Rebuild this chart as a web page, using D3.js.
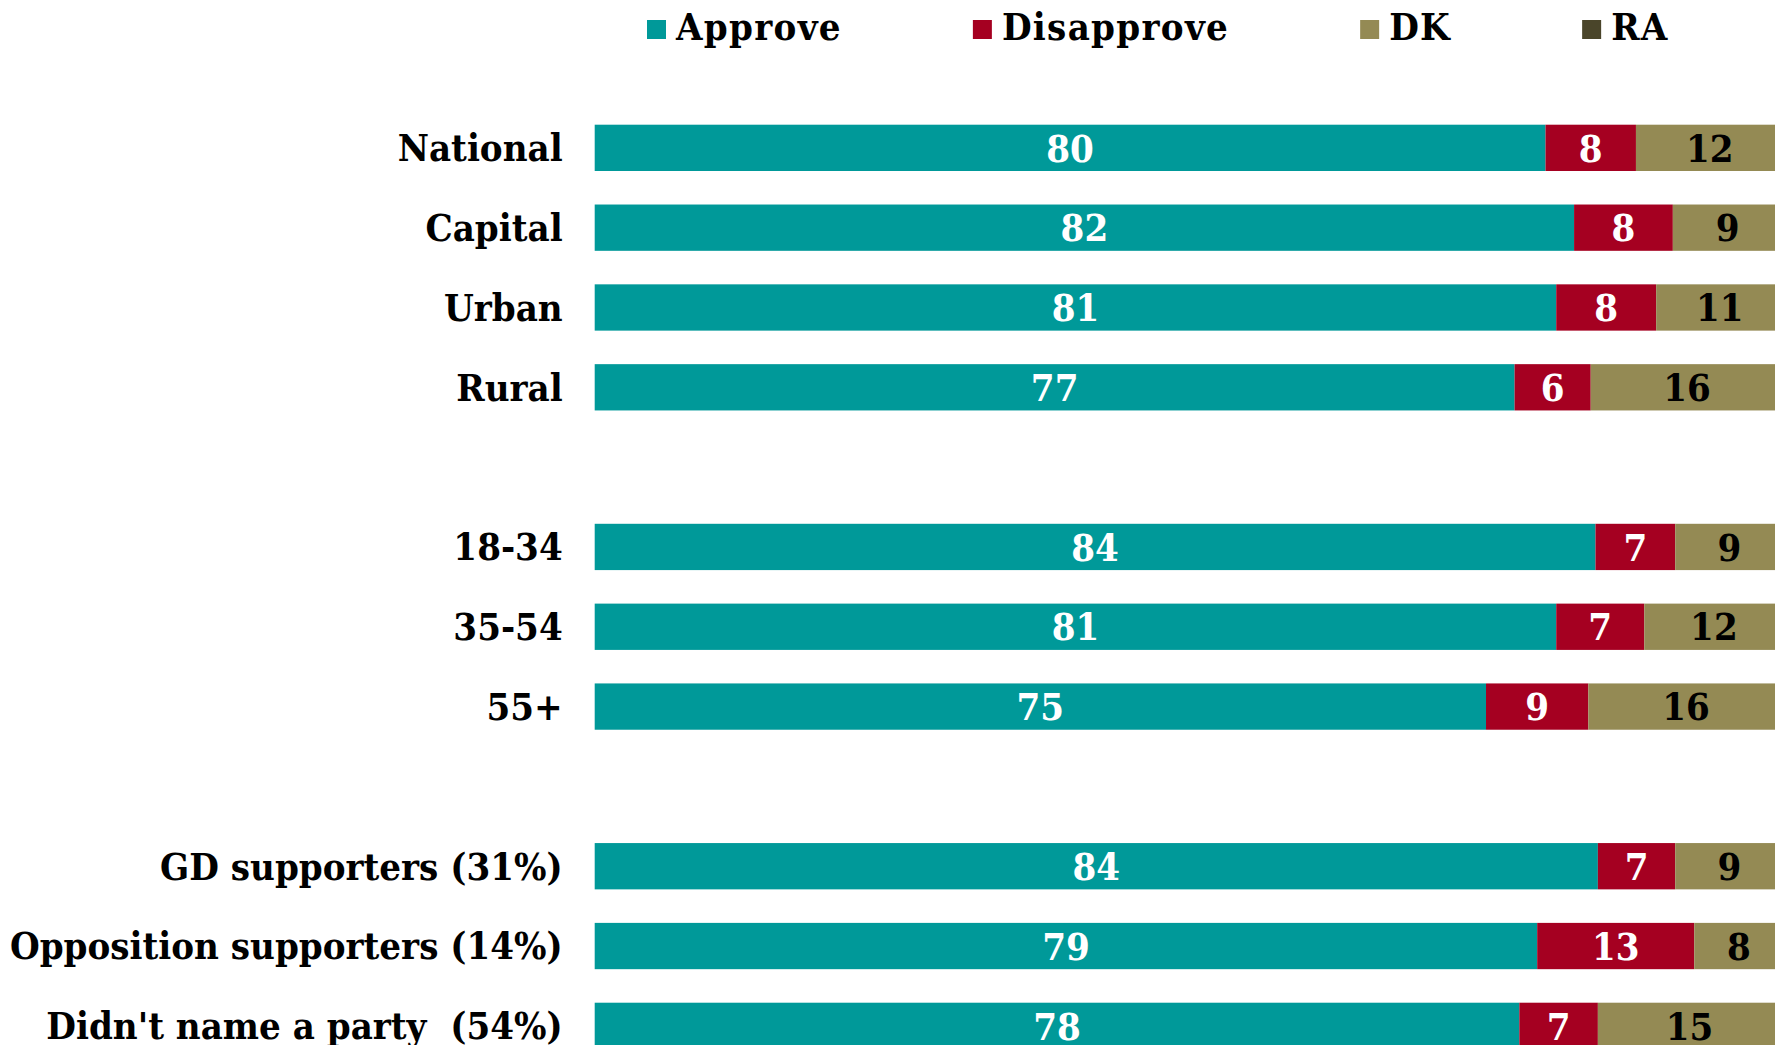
<!DOCTYPE html>
<html>
<head>
<meta charset="utf-8">
<script src="https://cdn.jsdelivr.net/npm/d3@7"></script>
<style>
  body { margin: 0; background: #fff; }
  text { font-family: "DejaVu Serif Condensed", "DejaVu Serif", serif; font-stretch: condensed; font-weight: bold; }
</style>
</head>
<body>
<div id="chart-area"></div>
<script>
// categories (top to bottom), blank rows after the ones in gapAfter
var categories = ["National", "Capital", "Urban", "Rural",
  "18-34", "35-54", "55+",
  "GD supporters (31%)", "Opposition supporters (14%)", "Didn't name a party  (54%)"];
var gapAfter = ["Rural", "55+"];

// series values (percent)
var approve    = [79.9, 82.3, 80.8, 77.3, 84.1, 80.8, 74.9, 84.3, 79.2, 77.7];
var disapprove = [7.6, 8.3, 8.4, 6.4, 6.7, 7.4, 8.6, 6.5, 13.2, 6.6];
var dk         = [12.4, 9.2, 10.7, 16.2, 9.1, 11.7, 16.4, 9.1, 7.5, 15.4];
var ra         = [0, 0, 0, 0, 0, 0, 0, 0, 0, 0];

var seriesNames = ["Approve", "Disapprove", "DK", "RA"];
var colors = ["#009999", "#A50021", "#948A54", "#4A452A"];
var labelColors = ["#fff", "#fff", "#000", "#fff"];

var width = 1775, height = 1045;
var fontSize = "38px";

var svg = d3.select("#chart-area")
  .append("svg")
  .attr("width", width)
  .attr("height", height);

// rows incl. blank slots
var slots = [];
categories.forEach(function(c) {
  slots.push(c);
  if (gapAfter.indexOf(c) >= 0) slots.push("_gap" + slots.length);
});

var y = d3.scaleBand()
  .domain(slots)
  .range([124.7, 1049])
  .paddingInner(0.42)
  .paddingOuter(0);

var x = d3.scaleLinear()
  .domain([0, 100])
  .range([594.7, 594.7 + 1190]);

var data = categories.map(function(c, i) {
  return { cat: c, Approve: approve[i], Disapprove: disapprove[i], DK: dk[i], RA: ra[i] };
});

var stack = d3.stack().keys(seriesNames)(data);

var layers = svg.selectAll("g.layer")
  .data(stack)
  .enter()
  .append("g")
    .attr("class", "layer")
    .attr("fill", function(d, i) { return colors[i]; });

layers.selectAll("rect")
  .data(function(d) { return d; })
  .enter()
  .append("rect")
    .attr("x", function(d) { return x(d[0]); })
    .attr("y", function(d) { return y(d.data.cat); })
    .attr("width", function(d) { return x(d[1]) - x(d[0]); })
    .attr("height", y.bandwidth());

// value labels
stack.forEach(function(layer, li) {
  svg.append("g")
    .selectAll("text")
    .data(layer.filter(function(d) { return d[1] - d[0] > 0; }))
    .enter()
    .append("text")
      .attr("x", function(d) { return (x(d[0]) + x(d[1])) / 2; })
      .attr("y", function(d) { return y(d.data.cat) + y.bandwidth() / 2; })
      .attr("dy", "0.36em")
      .attr("text-anchor", "middle")
      .attr("font-size", fontSize)
      .attr("fill", labelColors[li])
      .text(function(d) { return Math.round(d[1] - d[0]); });
});

// category labels
svg.append("g")
  .selectAll("text")
  .data(categories)
  .enter()
  .append("text")
    .attr("x", x(0) - 32)
    .attr("y", function(d) { return y(d) + y.bandwidth() / 2; })
    .attr("dy", "0.35em")
    .attr("text-anchor", "end")
    .attr("font-size", fontSize)
    .attr("fill", "#000")
    .style("white-space", "pre")
    .text(function(d) { return d; });

// legend
var legend = svg.append("g");
var lx = 647;
seriesNames.forEach(function(name, i) {
  legend.append("rect")
    .attr("x", lx)
    .attr("y", 20)
    .attr("width", 19)
    .attr("height", 19)
    .attr("fill", colors[i]);
  var t = legend.append("text")
    .attr("x", lx + 29)
    .attr("y", 40)
    .attr("font-size", fontSize)
    .attr("letter-spacing", "1.3px")
    .attr("fill", "#000")
    .text(name);
  lx = lx + 29 + t.node().getComputedTextLength() + 131;
});
</script>
</body>
</html>
